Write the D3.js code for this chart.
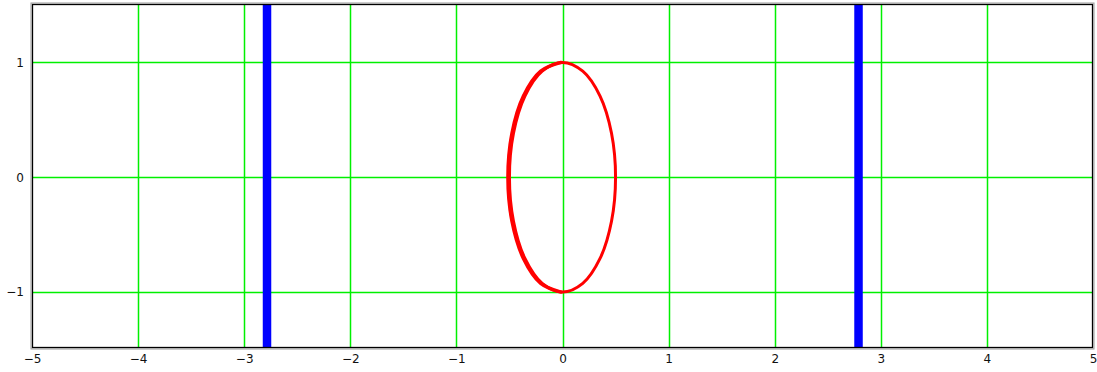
<!DOCTYPE html>
<html>
<head>
<meta charset="utf-8">
<script src="https://cdn.jsdelivr.net/npm/d3@7"></script>
<style>
  html, body { margin: 0; padding: 0; background: #fff; }
  svg { display: block; }
  .tick text { font-family: "DejaVu Sans", sans-serif; font-size: 12px; fill: #111; }
</style>
</head>
<body>
<svg id="chart" width="1097" height="372"></svg>
<script>
// Axis ticks
const xTicks = [-5, -4, -3, -2, -1, 0, 1, 2, 3, 4, 5];
const yTicks = [-1, 0, 1];
const xDomain = [-5, 5];
const yDomain = [-1.5, 1.5];

// Vertical markers (x positions)
const markerX = [-2.785, 2.79];

// Points on the closed curve (x, y), counter-clockwise from the right edge
const curveX = [0.5, 0.462, 0.354, 0.191, 0, -0.191, -0.354, -0.462, -0.5, -0.462, -0.354, -0.191, 0, 0.191, 0.354, 0.462];
const curveY = [0, 0.383, 0.707, 0.924, 1, 0.924, 0.707, 0.383, 0, -0.383, -0.707, -0.924, -1, -0.924, -0.707, -0.383];

const svg = d3.select("#chart");
const plot = { left: 32, right: 1093, top: 4, bottom: 348 };

const x = d3.scaleLinear().domain(xDomain).range([plot.left, plot.right]);
const y = d3.scaleLinear().domain(yDomain).range([plot.bottom + 1.5, plot.top + 1]);

// Grid lines
const grid = svg.append("g");
grid.selectAll("line.gx")
  .data(xTicks.filter(v => v > xDomain[0] && v < xDomain[1]))
  .join("line")
  .attr("x1", d => Math.round(x(d)) + 0.5).attr("x2", d => Math.round(x(d)) + 0.5)
  .attr("y1", plot.top).attr("y2", plot.bottom)
  .attr("stroke", "#00f000").attr("stroke-width", 1.5);
grid.selectAll("line.gy")
  .data(yTicks)
  .join("line")
  .attr("y1", d => Math.round(y(d)) + 0.5).attr("y2", d => Math.round(y(d)) + 0.5)
  .attr("x1", plot.left).attr("x2", plot.right)
  .attr("stroke", "#00f000").attr("stroke-width", 1.5);

// Vertical blue markers
svg.append("g").selectAll("line")
  .data(markerX)
  .join("line")
  .attr("x1", d => x(d)).attr("x2", d => x(d))
  .attr("y1", plot.top).attr("y2", plot.bottom)
  .attr("stroke", "#0000ff").attr("stroke-width", 8.5);

// Closed curve: left half drawn heavier than the right half
const pts = curveX.map((v, i) => [v, curveY[i]]);
const line = d3.line().x(d => x(d[0])).y(d => y(d[1])).curve(d3.curveCatmullRom.alpha(0.5));
const closed = d3.line().x(d => x(d[0])).y(d => y(d[1])).curve(d3.curveCatmullRomClosed.alpha(0.5));

svg.append("path")
  .attr("d", closed(pts))
  .attr("fill", "none").attr("stroke", "#ff0000").attr("stroke-width", 3);

// Left half, from top through the left edge to bottom, heavier and shifted outward
const leftHalf = pts.slice(4, 13);
svg.append("path")
  .attr("d", line(leftHalf))
  .attr("transform", "translate(-1.5,0)")
  .attr("fill", "none").attr("stroke", "#ff0000").attr("stroke-width", 3.5)
  .attr("stroke-linecap", "round");

// Frame
svg.append("rect")
  .attr("x", plot.left - 1).attr("y", plot.top - 1)
  .attr("width", plot.right - plot.left + 2).attr("height", plot.bottom - plot.top + 2)
  .attr("fill", "none").attr("stroke", "#999").attr("stroke-width", 1);
svg.append("rect")
  .attr("x", plot.left + 0.5).attr("y", plot.top + 0.5)
  .attr("width", plot.right - plot.left - 1).attr("height", plot.bottom - plot.top - 1)
  .attr("fill", "none").attr("stroke", "#000").attr("stroke-width", 1.3);

// Axes (labels only)
const xAxis = d3.axisBottom(x).tickValues(xTicks).tickSize(0).tickPadding(6)
  .tickFormat(d => d < 0 ? "\u2212" + Math.abs(d) : d);
svg.append("g").attr("transform", `translate(0,${plot.bottom})`).call(xAxis)
  .call(g => g.select(".domain").remove());

const yAxis = d3.axisLeft(y).tickValues(yTicks).tickSize(0).tickPadding(8)
  .tickFormat(d => d < 0 ? "\u2212" + Math.abs(d) : d);
svg.append("g").attr("transform", `translate(${plot.left},0)`).call(yAxis)
  .call(g => g.select(".domain").remove());
</script>
</body>
</html>
